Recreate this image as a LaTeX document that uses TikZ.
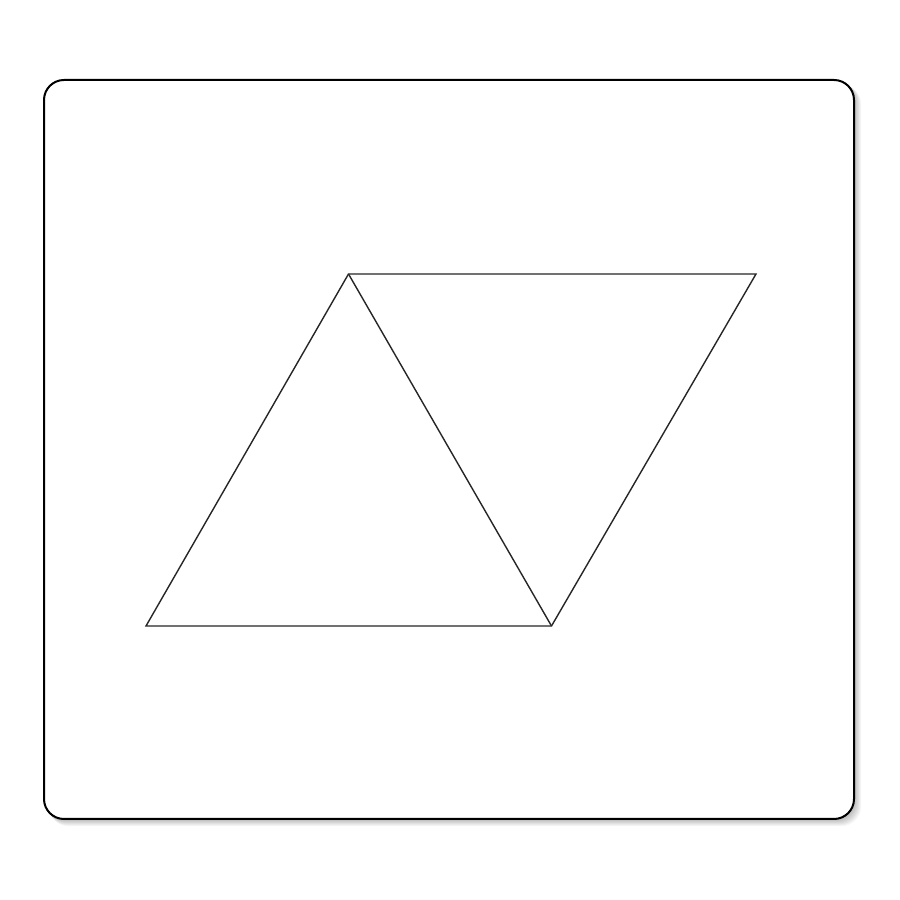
\documentclass[tikz,border=0pt]{standalone}
\begin{document}
\begin{tikzpicture}[x=1pt,y=1pt,
  frame/.style={draw=black,line width=2pt,rounded corners=20pt,fill=white},
  edge/.style={draw=black!85,line width=1.4pt,line join=miter}]
\useasboundingbox (0,0) rectangle (900,900);
\fill[white] (0,0) rectangle (900,900);
% soft shadow
\foreach \i in {1,...,8}{
  \fill[black,opacity=0.035,rounded corners=20pt] (44+\i*0.6,81-\i*0.9) rectangle (854+\i*0.9,820-\i*0.6);
}
\draw[frame] (44,81) rectangle (854,820);
\coordinate (A) at (348.5,626);
\coordinate (B) at (756,626);
\coordinate (C) at (551.5,274);
\coordinate (D) at (146,274);
\draw[edge] (A) -- (B) -- (C) -- (D) -- cycle;
\draw[edge] (A) -- (C);
\end{tikzpicture}
\end{document}
